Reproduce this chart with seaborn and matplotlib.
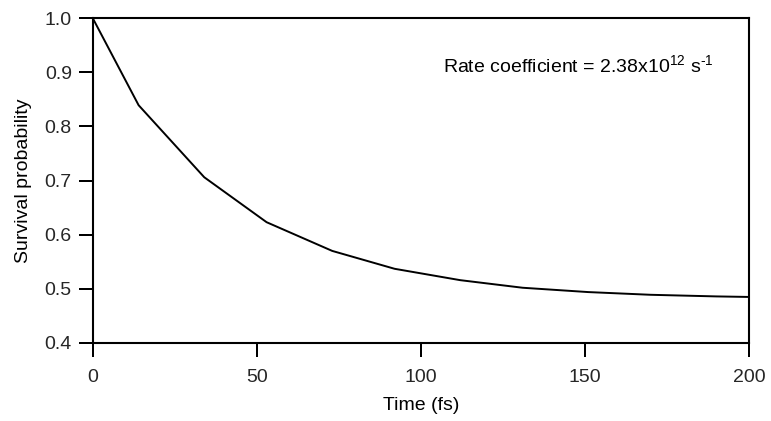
import matplotlib
matplotlib.use("Agg")
import matplotlib.pyplot as plt
from matplotlib.markers import TICKDOWN, TICKLEFT
import seaborn as sns
import pandas as pd

time_fs = [0, 14, 34, 53, 73, 92, 112, 131, 151, 170, 190, 200]
survival = [1.0, 0.839, 0.706, 0.623, 0.570, 0.537, 0.516, 0.502, 0.494, 0.489, 0.486, 0.485]
x_ticks = [0, 50, 100, 150, 200]
y_ticks = [0.4, 0.5, 0.6, 0.7, 0.8, 0.9, 1.0]
annotation = r"Rate coefficient = 2.38x10$^{12}$ s$^{\text{-1}}$"

sns.set_style("ticks")
plt.rcParams.update({
    'font.family': ['Liberation Sans', 'DejaVu Sans'],
    'mathtext.fontset': 'custom',
    'mathtext.rm': 'Liberation Sans',
    'mathtext.it': 'Liberation Sans',
    'text.color': 'black',
    'axes.labelcolor': 'black',
})

df = pd.DataFrame({"Time (fs)": time_fs, "Survival probability": survival})

fig = plt.figure(figsize=(7.71, 4.21), dpi=100)
ax = fig.add_axes([0.1202, 0.1853, 0.9715 - 0.1202, 0.9572 - 0.1853])
sns.lineplot(data=df, x="Time (fs)", y="Survival probability", ax=ax,
             color="black", linewidth=1.4)

ax.set_xlim(0, 200)
ax.set_ylim(0.4, 1.0)
ax.set_xticks(x_ticks)
ax.set_yticks(y_ticks)
ax.set_yticklabels([f"{v:.1f}" for v in y_ticks])
ax.xaxis.set_ticks_position('bottom')
ax.yaxis.set_ticks_position('left')
ax.tick_params(axis='both', direction='out', length=10, width=1.4,
               labelsize=14, color='black')
ax.tick_params(axis='x', pad=9)
ax.tick_params(axis='y', pad=5)

# tick marks drawn as markers at the tick positions (same look as the axis ticks)
ax.plot(x_ticks, [0] * len(x_ticks), transform=ax.get_xaxis_transform(),
        linestyle='none', marker=TICKDOWN, markersize=10, markeredgewidth=1.4,
        color='black', clip_on=False, zorder=5)
ax.plot([0] * len(y_ticks), y_ticks, transform=ax.get_yaxis_transform(),
        linestyle='none', marker=TICKLEFT, markersize=10, markeredgewidth=1.4,
        color='black', clip_on=False, zorder=5)

for s in ax.spines.values():
    s.set_visible(True)
    s.set_color('black')
    s.set_linewidth(1.5)
ax.set_xlabel("Time (fs)", fontsize=14, labelpad=8)
ax.set_ylabel("Survival probability", fontsize=14, labelpad=9)
ax.text(0.534, 0.835, annotation, transform=ax.transAxes, fontsize=14,
        ha='left', va='baseline')

fig.savefig("out.png", dpi=100)
